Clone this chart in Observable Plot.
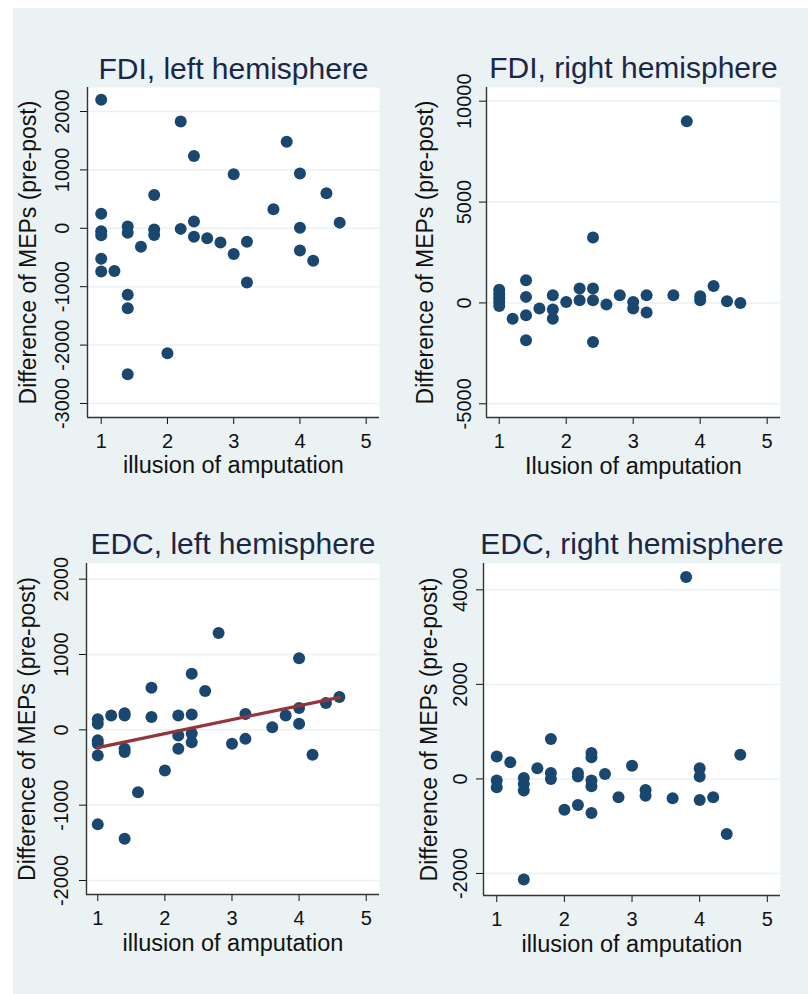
<!DOCTYPE html>
<html>
<head>
<meta charset="utf-8">
<script src="https://cdn.jsdelivr.net/npm/d3@7"></script>
<script src="https://cdn.jsdelivr.net/npm/@observablehq/plot@0.6"></script>
<style>
  html, body { margin: 0; padding: 0; background: #ffffff; width: 808px; height: 994px; overflow: hidden; }
  #bg { position: absolute; left: 13px; top: 8px; width: 795px; height: 986px; background: #eaf2f3; }
  .panel { position: absolute; }
</style>
</head>
<body>
<div id="bg"></div>
<script>
const xTicks = [1, 2, 3, 4, 5];
const yLabel = "Difference of MEPs (pre-post)";

// FDI, left hemisphere
const fdiLeftX = [1,1,1,1,1,1, 1.2, 1.4,1.4,1.4,1.4,1.4, 1.6, 1.8,1.8,1.8, 2, 2.2,2.2, 2.4,2.4,2.4, 2.6, 2.8, 3,3, 3.2,3.2, 3.6, 3.8, 4,4,4, 4.2, 4.4, 4.6];
const fdiLeftY = [2200,250,-50,-120,-520,-740, -730, 30,-75,-1140,-1370,-2500, -315, 570,-20,-115, -2140, 1830,-10, 1240,115,-145, -170, -245, 925,-440, -230,-930, 325, 1480, 940,10,-380, -555, 600, 97];
const fdiLeftTicks = [-3000, -2000, -1000, 0, 1000, 2000];

// FDI, right hemisphere
const fdiRightX = [1,1,1,1,1, 1.2, 1.4,1.4,1.4,1.4, 1.6, 1.8,1.8,1.8, 2, 2.2,2.2, 2.4,2.4,2.4,2.4, 2.6, 2.8, 3,3, 3.2,3.2, 3.6, 3.8, 4,4, 4.2, 4.4, 4.6];
const fdiRightY = [650,430,230,50,-150, -780, 1125,300,-610,-1855, -280, 380,-330,-780, 50, 710,130, 3245,710,130,-1940, -80, 380, 50,-280, 380,-480, 380, 9000, 330,130, 845, 80, 0];
const fdiRightTicks = [-5000, 0, 5000, 10000];

// EDC, left hemisphere
const edcLeftX = [1,1,1,1,1,1, 1.2, 1.4,1.4,1.4,1.4,1.4, 1.6, 1.8,1.8, 2, 2.2,2.2,2.2, 2.4,2.4,2.4,2.4, 2.6, 2.8, 3, 3.2,3.2, 3.6, 3.8, 4,4,4, 4.2, 4.4, 4.6];
const edcLeftY = [140,80,-140,-185,-340,-1255, 190, 220,190,-250,-295,-1445, -830, 560,170, -540, 190,-75,-250, 745,205,-50,-165, 515, 1285, -185, 210,-120, 35, 190, 950,290,80, -330, 355, 435];
const edcLeftTicks = [-2000, -1000, 0, 1000, 2000];

// EDC, right hemisphere
const edcRightX = [1,1,1, 1.2, 1.4,1.4,1.4,1.4, 1.6, 1.8,1.8,1.8, 2, 2.2,2.2,2.2, 2.4,2.4,2.4,2.4,2.4, 2.6, 2.8, 3, 3.2,3.2, 3.6, 3.8, 4,4,4, 4.2, 4.4, 4.6];
const edcRightY = [473,-35,-175, 353, 20,-105,-245,-2130, 225, 845,125,0, -650, 125,50,-550, 550,460,-35,-155,-720, 105, -390, 280, -235,-355, -410, 4270, 225,50,-445, -390, -1165, 510];
const edcRightTicks = [-2000, 0, 2000, 4000];

const FONT = "'Liberation Sans', Arial, Helvetica, sans-serif";
const DOT = "#1a476f";
const LINE = "#92363b";
const AXIS = "#333333";

function panel(o) {
  const data = o.xs.map((x, i) => ({x, y: o.ys[i]}));
  const f = o.frame;
  const marks = [
    Plot.frame({fill: "white", stroke: null}),
    Plot.gridY(o.yTicks, {stroke: "#eaf2f3", strokeOpacity: 1, strokeWidth: 1.5}),
    Plot.axisX(xTicks, {tickSize: 7, tickPadding: 9, fontSize: 20, color: "#111", label: null, tickFormat: d => String(d)}),
    Plot.axisY(o.yTicks, {tickSize: 7, tickRotate: -90, tickPadding: o.yPad, fontSize: 20, color: "#111", label: null, tickFormat: d => String(d)}),
    Plot.ruleX([o.xDomain[0]], {stroke: AXIS, strokeWidth: 1.4}),
    Plot.ruleY([o.yDomain[0]], {stroke: AXIS, strokeWidth: 1.4}),
    Plot.dot(data, {x: "x", y: "y", r: 6, fill: DOT, stroke: null})
  ];
  if (o.reg) marks.push(Plot.linearRegressionY(data, {x: "x", y: "y", stroke: LINE, strokeWidth: 3.2, ci: 0}));
  marks.push(
    Plot.text([o.title], {text: d => d, frameAnchor: "top", textAnchor: "middle", dy: o.titleBase - f.t, lineAnchor: "bottom", fontSize: 30, fill: "#1c2748"}),
    Plot.text([o.xlabel], {text: d => d, frameAnchor: "bottom", textAnchor: "middle", dy: o.xlabBase - f.b, lineAnchor: "bottom", fontSize: 23.5, fill: "#111"}),
    Plot.text([yLabel], {text: d => d, frameAnchor: "left", textAnchor: "middle", rotate: -90, dx: o.ylabBase - f.l, lineAnchor: "bottom", fontSize: 23, fill: "#111"})
  );
  const svg = Plot.plot({
    width: o.width,
    height: o.height,
    marginLeft: f.l - o.left,
    marginRight: o.left + o.width - f.r,
    marginTop: f.t - o.top,
    marginBottom: o.top + o.height - f.b,
    style: {fontFamily: FONT, background: "transparent", overflow: "visible"},
    x: {domain: o.xDomain, axis: null},
    y: {domain: o.yDomain, axis: null},
    marks
  });
  const wrap = document.createElement("div");
  wrap.className = "panel";
  wrap.style.left = o.left + "px";
  wrap.style.top = o.top + "px";
  wrap.appendChild(svg);
  document.body.appendChild(wrap);
}

panel({
  title: "FDI, left hemisphere", xlabel: "illusion of amputation",
  xs: fdiLeftX, ys: fdiLeftY, yTicks: fdiLeftTicks,
  xDomain: [0.793, 5.201], yDomain: [-3240, 2411],
  left: 13, top: 8, width: 395, height: 487,
  frame: {l: 87, r: 379, t: 87, b: 417},
  titleBase: 78, xlabBase: 472, ylabBase: 35, yPad: 12
});

panel({
  title: "FDI, right hemisphere", xlabel: "Ilusion of amputation",
  xs: fdiRightX, ys: fdiRightY, yTicks: fdiRightTicks,
  xDomain: [0.810, 5.199], yDomain: [-5679, 10679],
  left: 408, top: 8, width: 400, height: 487,
  frame: {l: 486, r: 780, t: 87, b: 417},
  titleBase: 77, xlabBase: 473, ylabBase: 432, yPad: 9
});

panel({
  title: "EDC, left hemisphere", xlabel: "illusion of amputation",
  xs: edcLeftX, ys: edcLeftY, yTicks: edcLeftTicks, reg: true,
  xDomain: [0.832, 5.198], yDomain: [-2186, 2208],
  left: 13, top: 495, width: 395, height: 499,
  frame: {l: 86, r: 379, t: 563, b: 894},
  titleBase: 553, xlabBase: 950, ylabBase: 34, yPad: 12
});

panel({
  title: "EDC, right hemisphere", xlabel: "illusion of amputation",
  xs: edcRightX, ys: edcRightY, yTicks: edcRightTicks,
  xDomain: [0.804, 5.195], yDomain: [-2466, 4557],
  left: 408, top: 495, width: 400, height: 499,
  frame: {l: 483, r: 780, t: 563, b: 895},
  titleBase: 553, xlabBase: 951, ylabBase: 436, yPad: 10
});
</script>
</body>
</html>
